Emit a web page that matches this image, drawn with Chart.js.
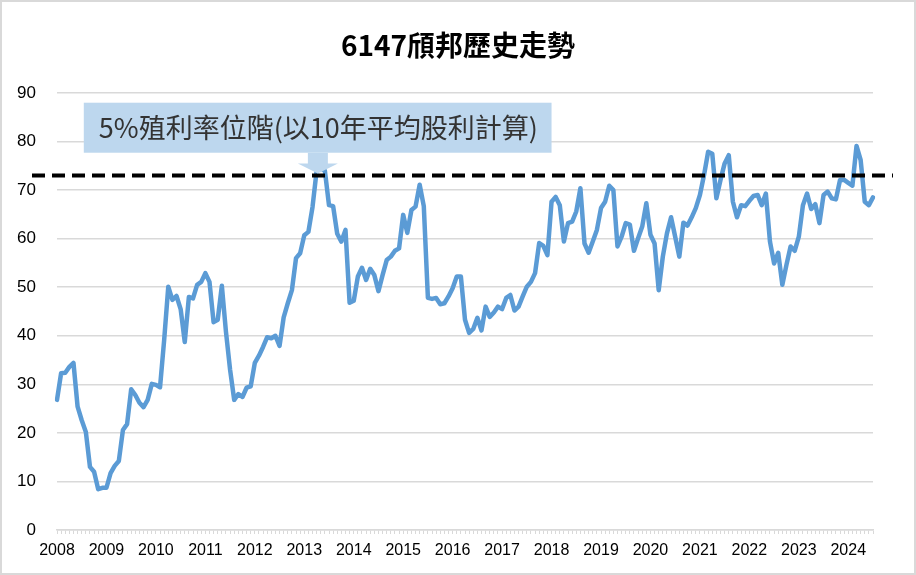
<!DOCTYPE html>
<html>
<head>
<meta charset="utf-8">
<script src="https://cdn.jsdelivr.net/npm/chart.js@4.4.1/dist/chart.umd.min.js"></script>
<style>
    html, body { margin: 0; padding: 0; background: #fff; }
    #wrap { width: 916px; height: 575px; position: relative; }
</style>
</head>
<body>
<div id="wrap"><canvas id="priceChart"></canvas></div>
<script>
const chartTitle = '6147頎邦歷史走勢';
const calloutText = '5%殖利率位階(以10年平均股利計算)';

// one point per month, Jan 2008 .. Jul 2024
const years = [2008, 2009, 2010, 2011, 2012, 2013, 2014, 2015, 2016, 2017, 2018, 2019, 2020, 2021, 2022, 2023, 2024];
const lastYearMonths = 7;

const prices = [
    26.8, 32.3, 32.4, 33.6, 34.4, 25.4, 22.6, 20.2, 13.0, 12.0, 8.4, 8.7,      // 2008
    8.7, 11.7, 13.2, 14.2, 20.6, 21.8, 29.0, 27.8, 26.2, 25.3, 26.8, 30.1,     // 2009
    29.9, 29.4, 39.1, 50.1, 47.4, 48.2, 45.5, 38.7, 48.0, 47.7, 50.5, 51.1,    // 2010
    52.9, 51.1, 42.8, 43.3, 50.3, 40.8, 33.0, 26.8, 28.0, 27.4, 29.3, 29.6,    // 2011
    34.4, 35.9, 37.7, 39.7, 39.5, 40.0, 37.9, 43.8, 46.7, 49.4, 56.0, 57.0,    // 2012
    60.7, 61.4, 66.5, 74.0, 74.5, 74.0, 66.9, 66.7, 61.0, 59.4, 61.8, 46.8,    // 2013
    47.2, 52.2, 54.0, 51.5, 53.8, 52.5, 49.2, 52.5, 55.6, 56.3, 57.5, 58.0,    // 2014
    64.9, 61.2, 65.9, 66.6, 71.1, 66.7, 47.8, 47.6, 47.8, 46.5, 46.7, 48.1,    // 2015
    49.8, 52.2, 52.2, 43.3, 40.6, 41.4, 43.7, 41.1, 46.0, 43.9, 44.8, 46.0,    // 2016
    45.5, 47.8, 48.4, 45.2, 46.0, 48.1, 50.1, 51.1, 52.9, 59.1, 58.5, 56.6,    // 2017
    67.6, 68.6, 66.9, 59.4, 63.2, 63.5, 65.6, 70.4, 59.0, 57.1, 59.4, 61.8,    // 2018
    66.3, 67.6, 70.9, 70.0, 58.4, 60.4, 63.2, 62.9, 57.5, 60.1, 62.5, 67.3,    // 2019
    60.8, 59.0, 49.4, 56.3, 61.1, 64.4, 60.4, 56.3, 63.3, 62.7, 64.4, 66.3,    // 2020
    69.0, 73.1, 77.9, 77.5, 68.3, 72.1, 75.5, 77.2, 67.6, 64.4, 66.9, 66.7,    // 2021
    67.8, 68.8, 69.0, 66.9, 69.3, 59.4, 54.9, 57.1, 50.5, 54.6, 58.4, 57.5,    // 2022
    60.4, 66.9, 69.3, 66.1, 67.1, 63.2, 69.0, 69.7, 68.3, 68.1, 72.1, 72.1,    // 2023
    71.5, 70.9, 79.1, 76.2, 67.6, 66.9, 68.5                                   // 2024
];

// 5% yield level (10-year average dividend)
const yieldLevel = 73;
const calloutIndex = 63.3;

const yMin = 0;
const yMax = 90;
const yStep = 10;

const monthLabels = [];
years.forEach((yr, n) => {
    const count = n === years.length - 1 ? lastYearMonths : 12;
    for (let m = 1; m <= count; m++) {
        monthLabels.push(yr + '/' + String(m).padStart(2, '0'));
    }
});

const latinFont = '"Liberation Sans", Arial, "Noto Sans CJK TC", sans-serif';
const cjkFont = '"Noto Sans CJK TC", "Liberation Sans", sans-serif';

const overlayPlugin = {
    id: 'overlay',
    afterDatasetsDraw(chart) {
        const { ctx, chartArea, scales: { x, y } } = chart;
        const lineY = y.getPixelForValue(yieldLevel);

        ctx.save();
        // dashed yield line
        ctx.strokeStyle = '#000';
        ctx.lineWidth = 4;
        ctx.setLineDash([13, 7]);
        ctx.beginPath();
        ctx.moveTo(chartArea.left - 25, lineY);
        ctx.lineTo(chartArea.right + 20, lineY);
        ctx.stroke();
        ctx.setLineDash([]);

        // callout box
        const left = x.getPixelForValue(6.5);
        const right = x.getPixelForValue(120);
        const top = y.getPixelForValue(88);
        const bottom = y.getPixelForValue(77.7);
        ctx.fillStyle = '#bdd7ee';
        ctx.fillRect(left, top, right - left, bottom - top);

        // arrow down to the line
        const ax = x.getPixelForValue(calloutIndex);
        const headY = y.getPixelForValue(75.5);
        ctx.beginPath();
        ctx.moveTo(ax - 10, bottom);
        ctx.lineTo(ax + 10, bottom);
        ctx.lineTo(ax + 10, headY);
        ctx.lineTo(ax + 20, headY);
        ctx.lineTo(ax, lineY - 2);
        ctx.lineTo(ax - 20, headY);
        ctx.lineTo(ax - 10, headY);
        ctx.closePath();
        ctx.fill();

        ctx.fillStyle = '#333';
        ctx.font = '27px ' + cjkFont;
        ctx.textBaseline = 'middle';
        ctx.textAlign = 'left';
        ctx.fillText(calloutText, left + 15, (top + bottom) / 2);
        ctx.restore();
    },
    afterDraw(chart) {
        const { ctx, width, height } = chart;
        ctx.save();
        ctx.fillStyle = '#000';
        ctx.font = 'bold 28px ' + cjkFont;
        ctx.textAlign = 'center';
        ctx.textBaseline = 'middle';
        ctx.fillText(chartTitle, width / 2, 45);

        ctx.strokeStyle = '#d9d9d9';
        ctx.lineWidth = 2;
        ctx.strokeRect(1, 1, width - 2, height - 2);
        ctx.restore();
    }
};

new Chart(document.getElementById('priceChart'), {
    type: 'line',
    data: {
        labels: monthLabels,
        datasets: [{
            data: prices,
            borderColor: '#5b9bd5',
            borderWidth: 4.5,
            pointRadius: 0,
            tension: 0,
            borderJoinStyle: 'round',
            borderCapStyle: 'round'
        }]
    },
    options: {
        responsive: true,
        maintainAspectRatio: false,
        animation: false,
        layout: {
            padding: { top: 93, right: 43, bottom: 0, left: 0 }
        },
        scales: {
            x: {
                type: 'category',
                offset: false,
                afterFit(scale) { scale.height = 45; },
                grid: {
                    drawOnChartArea: false,
                    drawTicks: true,
                    tickLength: 4,
                    color: '#d9d9d9'
                },
                border: { color: '#d9d9d9', width: 1.5 },
                ticks: {
                    autoSkip: false,
                    maxRotation: 0,
                    minRotation: 0,
                    padding: 7,
                    color: '#000',
                    font: { family: latinFont, size: 16 },
                    callback: (val, idx) => idx % 12 === 0 ? String(years[idx / 12]) : ''
                }
            },
            y: {
                min: yMin,
                max: yMax,
                afterFit(scale) { scale.width = 57; },
                grid: { color: '#d9d9d9', lineWidth: 1.5, drawTicks: false },
                border: { display: false },
                ticks: {
                    stepSize: yStep,
                    padding: 21,
                    color: '#000',
                    font: { family: latinFont, size: 17 }
                }
            }
        },
        plugins: {
            legend: { display: false },
            title: { display: false },
            tooltip: { enabled: false }
        }
    },
    plugins: [overlayPlugin]
});
</script>
</body>
</html>
